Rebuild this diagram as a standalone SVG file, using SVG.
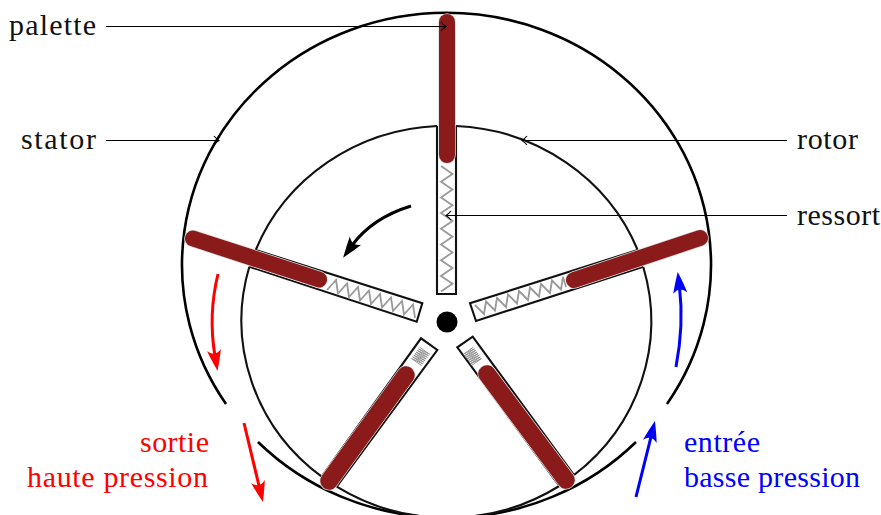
<svg xmlns="http://www.w3.org/2000/svg" width="881" height="515" viewBox="0 0 881 515">
<style>
.s{fill:none;stroke:#000;stroke-width:2.6;stroke-linecap:butt}
.r{fill:none;stroke:#111;stroke-width:2.1}
.w{fill:none;stroke:#111;stroke-width:2.1;stroke-linejoin:miter}
.z{fill:none;stroke:#999;stroke-width:1.8;stroke-linejoin:miter}
.y{fill:none;stroke:#888;stroke-width:0.9;stroke-linejoin:miter}
.h{fill:none;stroke:#ddd;stroke-linecap:round}
.b{fill:none;stroke:#8b1a1a;stroke-linecap:round}
.h1{stroke-width:17.5}.b1{stroke-width:16}
.h2{stroke-width:19}.b2{stroke-width:17.5}
.t{fill:none;stroke:#000;stroke-width:1.2}
.k{stroke:#000}.rd{stroke:#f00}.bl{stroke:#00f}
.a{fill:none;stroke-width:3}
text{font-family:"Liberation Serif","Times New Roman",serif;font-size:30px;fill:#111}
.tr{fill:#f00}.tb{fill:#00f}
</style>
<defs>
<marker id="to" markerUnits="userSpaceOnUse" markerWidth="12" markerHeight="12" refX="7" refY="6" orient="auto" overflow="visible"><path d="M2,1.5 Q4.5,4.5 7,6 Q4.5,7.5 2,10.5" fill="none" stroke="#000" stroke-width="1.1"/></marker>
<marker id="hk" markerUnits="userSpaceOnUse" markerWidth="22" markerHeight="16" refX="6" refY="8" orient="auto" overflow="visible"><path d="M21,8 Q9,3.5 0,1 Q7,8 0,15 Q9,12.5 21,8Z" fill="#000"/></marker>
<marker id="hr" markerUnits="userSpaceOnUse" markerWidth="22" markerHeight="16" refX="6" refY="8" orient="auto" overflow="visible"><path d="M21,8 Q9,3.5 0,1 Q7,8 0,15 Q9,12.5 21,8Z" fill="#f00"/></marker>
<marker id="hb" markerUnits="userSpaceOnUse" markerWidth="22" markerHeight="16" refX="6" refY="8" orient="auto" overflow="visible"><path d="M21,8 Q9,3.5 0,1 Q7,8 0,15 Q9,12.5 21,8Z" fill="#00f"/></marker>
</defs>

<g id="stator">
<path class="s" d="M226,404 A264.5,252 0 1 1 667,404"/>
<path class="s" d="M636,442 A264.5,252 0 0 1 258,442"/>
</g>
<g id="rotor">
<path class="r" d="M456,126 A205.5,197 0 0 1 637.7,250"/>
<path class="r" d="M643.3,267 A205.5,197 0 0 1 574,475"/>
<path class="r" d="M559.3,486 A205.5,197 0 0 1 336.7,486.7"/>
<path class="r" d="M321.7,476.7 A205.5,197 0 0 1 249.3,266.7"/>
<path class="r" d="M255.7,250 A205.5,197 0 0 1 437,126"/>
</g>
<g id="fentes">
<path class="w" d="M437,126 V294 H456 V126"/>
<path class="w" d="M255.7,250 L422.3,303.3 L416.7,321.7 L249.3,266.7"/>
<path class="w" d="M637.7,250 L470,303.3 L476,321 L643.3,266.7"/>
<path class="w" d="M321.7,476.7 L421,338.3 L437.3,350 L336.7,486.7"/>
<path class="w" d="M574,475 L472.7,336.7 L457.3,347.3 L559.3,486"/>
</g>
<g id="ressorts">
<polyline class="z" points="441,166 452.5,173.9 441,181.7 452.5,189.6 441,197.4 452.5,205.3 441,213.1 452.5,221 441,228.8 452.5,236.7 441,244.5 452.5,252.4 441,260.2 452.5,268.1 441,275.9 452.5,283.8 441,291.6"/>
<polyline class="z" points="327,290 336,280 338,293.5 347,283.5 349,297 358,287 360,300.5 369,290.5 371,304 380,294 382,307.5 391,297.5 393,311 402,301 404,314.5 413,304.5 415,318"/>
<polyline class="z" points="475,305 484,314 486,301.5 495,310.5 497,298 506,307 508,294.5 517,303.5 519,291 528,300 530,287.5 539,296.5 541,284 550,293 552,280.5 561,289.5 563,277 566,287"/>
<polyline class="y" points="421.5,365.5 411.5,358.5 422.66,363.88 412.66,356.88 423.82,362.26 413.82,355.26 424.98,360.64 414.98,353.64 426.14,359.02 416.14,352.02 427.3,357.4 417.3,350.4 428.46,355.78 418.46,348.78 429.62,354.16 419.62,347.16"/>
<polyline class="y" points="471.5,365.5 481.5,358.5 470.34,363.88 480.34,356.88 469.18,362.26 479.18,355.26 468.02,360.64 478.02,353.64 466.86,359.02 476.86,352.02 465.7,357.4 475.7,350.4 464.54,355.78 474.54,348.78 463.38,354.16 473.38,347.16"/>
</g>
<g id="palettes">
<path class="h h1" d="M447,22 V155"/><path class="b b1" d="M447,22 V155"/>
<path class="h h1" d="M193,238.5 L319,279.5"/><path class="b b1" d="M193,238.5 L319,279.5"/>
<path class="h h1" d="M700,238 L574,280"/><path class="b b1" d="M700,238 L574,280"/>
<path class="h h2" d="M329,481 L406,375"/><path class="b b2" d="M329,481 L406,375"/>
<path class="h h2" d="M566,480 L487,374"/><path class="b b2" d="M566,480 L487,374"/>
</g>
<g id="axe"><ellipse cx="447" cy="322" rx="10.5" ry="10.5" fill="#000"/></g>

<g id="connecteurs">
<path class="t" marker-end="url(#to)" d="M106,26.5 H446"/>
<path class="t" marker-end="url(#to)" d="M106,140.5 H219"/>
<path class="t" marker-end="url(#to)" d="M787,140.5 H522"/>
<path class="t" marker-end="url(#to)" d="M787,215.5 H446"/>
<path class="a k" marker-end="url(#hk)" d="M411,206 Q372,218 352,245.5"/>
<path class="a rd" marker-end="url(#hr)" d="M218,274 Q208,315 215,356"/>
<path class="a bl" marker-end="url(#hb)" d="M676,367 Q684,325 679.5,287"/>
<path class="a rd" marker-end="url(#hr)" d="M244,423 L259.4,487.4"/>
<path class="a bl" marker-end="url(#hb)" d="M636,497 L651.3,435.6"/>
</g>

<g id="libelles">
<text x="9" y="35" textLength="87" lengthAdjust="spacing">palette</text>
<text x="21" y="149" textLength="75" lengthAdjust="spacing">stator</text>
<text x="797" y="149" textLength="61" lengthAdjust="spacing">rotor</text>
<text x="797" y="225" textLength="83" lengthAdjust="spacing">ressort</text>
<text class="tr" x="140" y="452" textLength="69" lengthAdjust="spacing">sortie</text>
<text class="tr" x="27" y="487" textLength="181" lengthAdjust="spacing">haute pression</text>
<text class="tb" x="684" y="452" textLength="76" lengthAdjust="spacing">entrée</text>
<text class="tb" x="684" y="487" textLength="176" lengthAdjust="spacing">basse pression</text>
</g>
</svg>
